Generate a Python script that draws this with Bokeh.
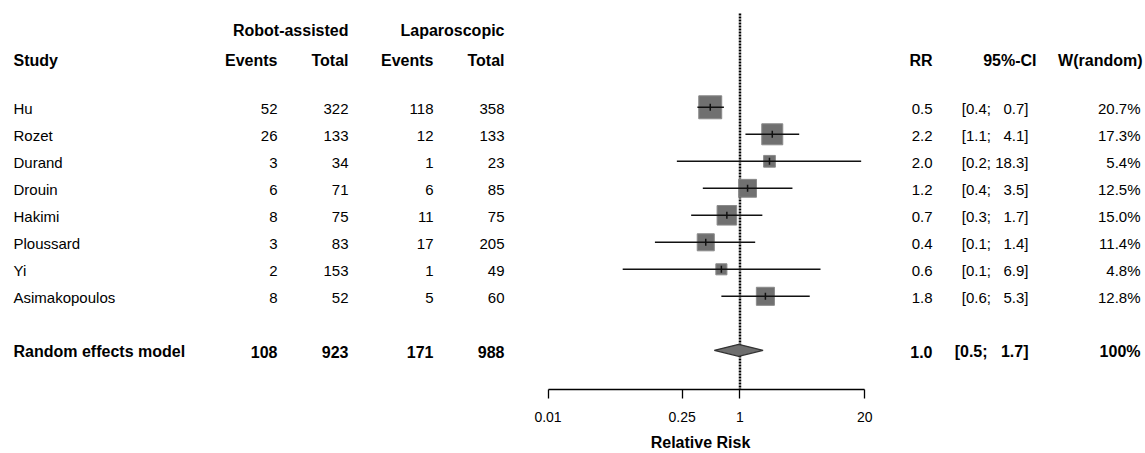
import numpy as np
from bokeh.plotting import figure
from bokeh.layouts import row
from bokeh.models import Range1d, FixedTicker, CustomJSTickFormatter
from bokeh.core.properties import value
from bokeh.embed import file_html
from bokeh.resources import INLINE

# ---------------- data ----------------
studies = ["Hu", "Rozet", "Durand", "Drouin", "Hakimi", "Ploussard", "Yi", "Asimakopoulos"]
robot_events = [52, 26, 3, 6, 8, 3, 2, 8]
robot_total = [322, 133, 34, 71, 75, 83, 153, 52]
lap_events = [118, 12, 1, 6, 11, 17, 1, 5]
lap_total = [358, 133, 23, 85, 75, 205, 49, 60]
rr = [0.49, 2.17, 2.03, 1.20, 0.73, 0.44, 0.64, 1.84]
ci_lower = [0.36, 1.14, 0.22, 0.41, 0.31, 0.13, 0.06, 0.64]
ci_upper = [0.68, 4.14, 18.30, 3.52, 1.71, 1.44, 6.90, 5.33]
weights = [20.7, 17.3, 5.4, 12.5, 15.0, 11.4, 4.8, 12.8]

pooled_label = "Random effects model"
pooled_counts = [108, 923, 171, 988]
pooled_rr = 0.97
pooled_lower = 0.54
pooled_upper = 1.74
pooled_weight = "100%"

tick_values = [0.01, 0.25, 1, 20]

# ---------------- layout helpers ----------------
FONT = value("Liberation Sans")
FS = "15px"
FSB = "16px"
TXT = "#000000"
row_y = [106.8 + 27 * i for i in range(len(studies))]
pooled_y = 106.8 + 27 * 9
text_y = [y + 1.5 for y in row_y]
pooled_text_y = pooled_y + 1.5
H1, H2 = 30, 60
FRAME_H = 389


def table_fig(w, x0, x1):
    p = figure(width=w, height=453, x_range=Range1d(x0, x1), y_range=Range1d(FRAME_H, 0),
               toolbar_location=None, output_backend="svg", min_border=0,
               min_border_bottom=453 - FRAME_H,
               x_axis_location=None, y_axis_location=None, outline_line_color=None)
    p.grid.visible = False
    return p


def put(p, xs, ys, texts, align="right", bold=False):
    p.text(x=xs, y=ys, text=texts, text_align=align, text_baseline="middle",
           text_font=FONT, text_font_size=FSB if bold else FS, text_color=TXT,
           text_font_style="bold" if bold else "normal")


# ---------------- left table ----------------
left = table_fig(520, 0, 520)
n = len(studies)
put(left, [13] * n, text_y, studies, align="left")
cols_x = [277, 348, 433, 504]
for cx, vals in zip(cols_x, [robot_events, robot_total, lap_events, lap_total]):
    put(left, [cx] * n, text_y, [str(v) for v in vals])
put(left, [13], [pooled_text_y], [pooled_label], align="left", bold=True)
put(left, cols_x, [pooled_text_y] * 4, [str(v) for v in pooled_counts], bold=True)
put(left, [13], [H2], ["Study"], align="left", bold=True)
put(left, cols_x, [H2] * 4, ["Events", "Total", "Events", "Total"], bold=True)
put(left, [348, 504], [H1, H1], ["Robot-assisted", "Laparoscopic"], bold=True)

# ---------------- forest panel ----------------
forest = figure(width=360, height=453, x_axis_type="log",
                x_range=Range1d(0.00517, 29.1), y_range=Range1d(FRAME_H, 0),
                toolbar_location=None, output_backend="svg",
                min_border_left=0, min_border_right=0, min_border_top=0,
                min_border_bottom=453 - FRAME_H, y_axis_location=None,
                outline_line_color=None)
forest.grid.visible = False

# null-effect line
forest.segment(x0=[1], y0=[13], x1=[1], y1=[FRAME_H], line_color="#000000",
               line_width=2.5, line_dash="2 1")

sizes = [5.05 * np.sqrt(w) for w in weights]
forest.scatter(x=rr, y=row_y, marker="square", size=sizes,
               fill_color="#707070", line_color="#8a8a8a", line_width=1)
forest.segment(x0=ci_lower, y0=row_y, x1=ci_upper, y1=row_y,
               line_color="#111111", line_width=1.5)
forest.scatter(x=rr, y=row_y, marker="dash", angle=np.pi / 2, size=7,
               line_color="#111111", line_width=1.5)

forest.patch(x=[pooled_lower, pooled_rr, pooled_upper, pooled_rr],
             y=[pooled_y, pooled_y - 6, pooled_y, pooled_y + 6],
             fill_color="#6e6e6e", line_color="#333333", line_width=1.2)

ax = forest.xaxis[0]
ax.ticker = FixedTicker(ticks=tick_values)
ax.formatter = CustomJSTickFormatter(code="return tick.toString();")
ax.bounds = (tick_values[0], tick_values[-1])
ax.minor_tick_line_color = None
ax.major_tick_in = 0
ax.major_tick_out = 9
ax.axis_line_width = 1.3
ax.axis_line_color = "#000000"
ax.major_tick_line_color = "#000000"
ax.major_tick_line_width = 1.3
ax.major_label_text_font = "Liberation Sans"
ax.major_label_text_font_size = "14px"
ax.major_label_text_color = TXT
ax.major_label_standoff = 13
ax.axis_label = "Relative Risk"
ax.axis_label_text_font = "Liberation Sans"
ax.axis_label_text_font_size = FSB
ax.axis_label_text_font_style = "bold"
ax.axis_label_text_color = TXT
ax.axis_label_standoff = 9

# ---------------- right table ----------------
right = table_fig(265, 880, 1145)
rr_txt = [f"{v:.1f}" for v in rr]
ci_txt = []
for lo, hi in zip(ci_lower, ci_upper):
    pad = "\u2007" if hi < 10 else ""
    ci_txt.append(f"[{lo:.1f}; {pad}{hi:.1f}]")
w_txt = [f"{w:.1f}%" for w in weights]
put(right, [932] * n, text_y, rr_txt)
put(right, [1028] * n, text_y, ci_txt)
put(right, [1140] * n, text_y, w_txt)
put(right, [932, 1028, 1140], [pooled_text_y] * 3,
    [f"{pooled_rr:.1f}", f"[{pooled_lower:.1f}; \u2007{pooled_upper:.1f}]", pooled_weight], bold=True)
put(right, [932, 1036, 1142], [H2] * 3, ["RR", "95%-CI", "W(random)"], bold=True)

layout = row(left, forest, right)
open("out.html", "w").write(file_html(layout, INLINE))
